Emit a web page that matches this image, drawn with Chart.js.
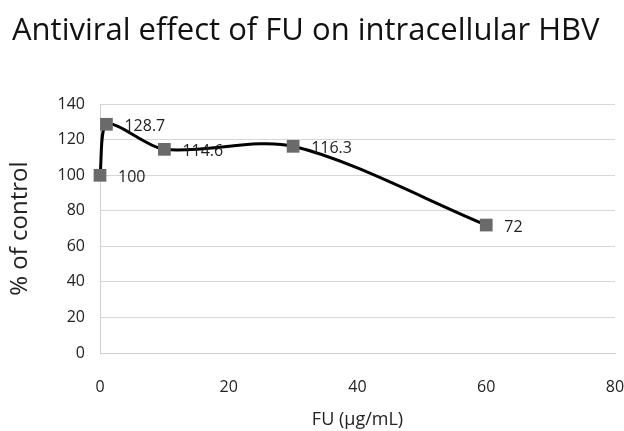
<!DOCTYPE html>
<html>
<head>
<meta charset="utf-8">
<script src="https://cdn.jsdelivr.net/npm/chart.js@4.4.1/dist/chart.umd.min.js"></script>
<style>
  html, body { margin: 0; padding: 0; background: #fff; }
  #wrap { width: 624px; height: 431px; }
</style>
</head>
<body>
<div id="wrap"><canvas id="graphCanvas" width="624" height="431"></canvas></div>
<script>
// values
var doses = [0, 1, 10, 30, 60];
var percentControl = [100, 128.7, 114.6, 116.3, 72];
var pointLabels = ['100', '128.7', '114.6', '116.3', '72'];
var xTicks = [0, 20, 40, 60, 80];
var yTicks = [0, 20, 40, 60, 80, 100, 120, 140];

var points = [];
for (var i = 0; i < doses.length; i++) {
  points.push({ x: doses[i], y: percentControl[i] });
}

// small inline plugin for the value labels next to each marker
var valueLabels = {
  id: 'valueLabels',
  afterDatasetsDraw: function (chart) {
    var ctx = chart.ctx;
    var meta = chart.getDatasetMeta(0);
    ctx.save();
    ctx.font = '16px "Open Sans"';
    ctx.fillStyle = '#222';
    ctx.textBaseline = 'middle';
    ctx.textAlign = 'left';
    meta.data.forEach(function (pt, idx) {
      ctx.fillText(pointLabels[idx], pt.x + 18, pt.y + 2);
    });
    ctx.restore();
  }
};

var tickFont = { family: '"Open Sans"', size: 16 };

new Chart(document.getElementById('graphCanvas'), {
  type: 'scatter',
  data: {
    datasets: [{
      label: '% of control',
      data: points,
      showLine: true,
      tension: 0.3,
      clip: false,
      borderColor: '#000',
      borderWidth: 3,
      pointStyle: 'rect',
      pointRadius: 9,
      pointBackgroundColor: '#6a6a6a',
      pointBorderColor: '#6a6a6a',
      pointBorderWidth: 0
    }]
  },
  options: {
    responsive: false,
    animation: false,
    layout: { padding: { left: 12, right: 9, top: 0, bottom: 0 } },
    plugins: {
      legend: { display: false },
      tooltip: { enabled: false },
      title: {
        display: true,
        text: 'Antiviral effect of FU on intracellular HBV',
        align: 'start',
        color: '#111',
        font: { family: '"Open Sans"', size: 31, weight: 'normal' },
        padding: { top: 13, bottom: 54 }
      }
    },
    scales: {
      x: {
        type: 'linear',
        min: 0,
        max: 80,
        afterBuildTicks: function (axis) {
          axis.ticks = xTicks.map(function (v) { return { value: v }; });
        },
        afterFit: function (axis) {
          axis.paddingRight = 0;
          axis.height = 78;
        },
        grid: { display: false, drawTicks: false },
        border: { display: true, color: '#d0d0d0' },
        ticks: { color: '#222', font: tickFont, padding: 25 },
        title: {
          display: true,
          text: 'FU (µg/mL)',
          color: '#222',
          font: { family: '"Open Sans"', size: 18 },
          padding: { top: 11, bottom: 0 }
        }
      },
      y: {
        min: 0,
        max: 140,
        afterBuildTicks: function (axis) {
          axis.ticks = yTicks.map(function (v) { return { value: v }; });
        },
        afterFit: function (axis) { axis.width = 88; },
        grid: { color: '#d6d6d6', lineWidth: 1, drawTicks: false },
        border: { display: true, color: '#d0d0d0' },
        ticks: { color: '#222', font: tickFont, padding: 15 },
        title: {
          display: true,
          text: '% of control',
          color: '#222',
          font: { family: '"Open Sans"', size: 24 },
          padding: { top: -6, bottom: 0 }
        }
      }
    }
  },
  plugins: [valueLabels]
});
</script>
</body>
</html>
